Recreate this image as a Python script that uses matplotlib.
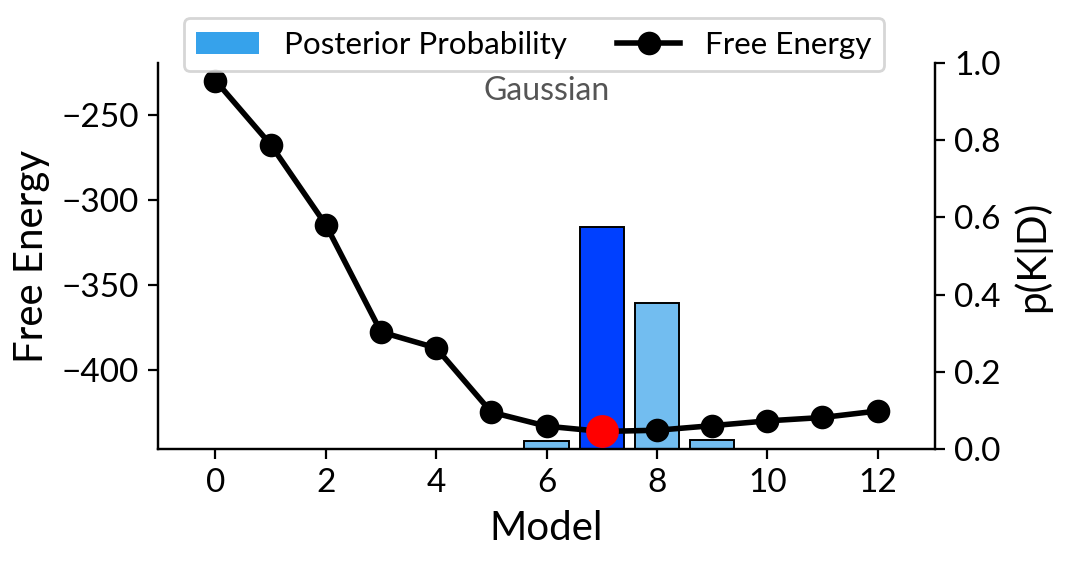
import matplotlib
matplotlib.use("Agg")
import matplotlib.pyplot as plt
from matplotlib.patches import Patch
from matplotlib.lines import Line2D
from matplotlib.colors import to_rgba

plt.rcParams['font.family'] = ['Lato', 'DejaVu Sans']

models = list(range(13))
free_energy = [-230, -267.6, -314.7, -377.6, -387, -424.7, -432.9, -436.0,
               -435.3, -432.6, -429.8, -427.8, -424.0]
posterior = [0, 0, 0, 0, 0, 0, 0.02, 0.575, 0.378, 0.0225, 0, 0, 0]
best_model = 7

bar_color = '#36A2EB'
best_color = '#0040FF'

fig = plt.figure(figsize=(5.34, 2.845), dpi=200)
ax = fig.add_axes([0.148, 0.2109, 0.7275, 0.6784])
ax2 = ax.twinx()

facecolors = [to_rgba(best_color, 1.0) if m == best_model else to_rgba(bar_color, 0.7)
              for m in models]
ax2.bar(models, posterior, width=0.8, color=facecolors, edgecolor='black', linewidth=0.7)
ax2.set_ylim(0, 1.0)
ax2.set_ylabel('p(K|D)', fontsize=14.5)
ax2.tick_params(labelsize=12)

ax.plot(models, free_energy, color='black', lw=2, marker='o', markersize=7.5, zorder=3)
ax.plot([best_model], [free_energy[best_model]], 'o', color='red', markersize=10.8, zorder=4)
ax.set_zorder(ax2.get_zorder() + 1)
ax.patch.set_visible(False)
ax.set_ylabel('Free Energy', fontsize=14.5)
ax.set_xlabel('Model', fontsize=14.5)
ax.set_xticks(range(0, 13, 2))
ax.tick_params(labelsize=12)
ax.set_yticks([-250, -300, -350, -400])

for a in (ax, ax2):
    a.spines['top'].set_visible(False)

ax.text(0.5, 0.927, 'Gaussian', transform=ax.transAxes, ha='center', va='center',
        fontsize=11.5, color='#555555')

handles = [Patch(facecolor=bar_color, label='Posterior Probability'),
           Line2D([0], [0], color='black', lw=2, marker='o', markersize=7.5, label='Free Energy')]
fig.legend(handles=handles, loc='upper center', bbox_to_anchor=(0.5, 0.968), ncol=2,
           fontsize=11.3, frameon=True, columnspacing=1.6, borderaxespad=0)

fig.savefig('out.png', dpi=200)
